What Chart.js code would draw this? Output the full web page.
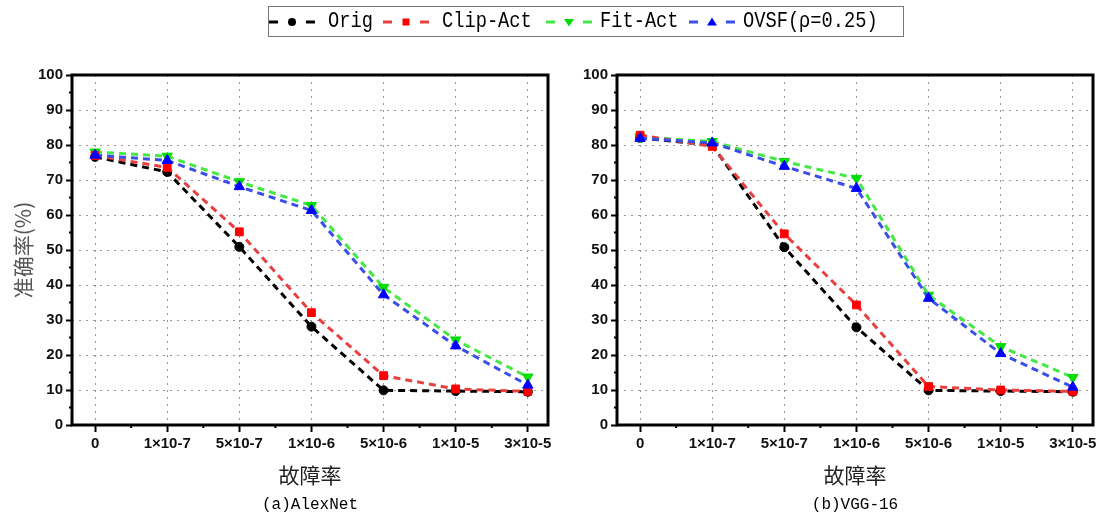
<!DOCTYPE html>
<html>
<head>
<meta charset="utf-8">
<script src="https://cdn.jsdelivr.net/npm/chart.js@4.4.1/dist/chart.umd.min.js"></script>
<style>
  body { margin: 0; background: #fff; width: 1100px; height: 516px; position: relative; overflow: hidden; }
  #wa { position: absolute; left: 0; top: 0; width: 560px; height: 516px; }
  #wb { position: absolute; left: 550px; top: 0; width: 550px; height: 516px; }
  .legend { position: absolute; left: 268px; top: 6px; width: 634px; height: 29px; border: 1px solid #777; }
  .legend svg { position: absolute; top: 7px; }
  .legend span { position: absolute; top: 0; line-height: 29px; font-family: "Liberation Mono", monospace; font-size: 22px; color: #000; transform: scaleX(0.85); transform-origin: left center; white-space: nowrap; }
  .sub { position: absolute; top: 496px; font-family: "Liberation Mono", monospace; font-size: 16px; color: #000; transform: translateX(-50%); white-space: nowrap; }
</style>
</head>
<body>
<div id="wa"><canvas id="chartA" width="560" height="516"></canvas></div>
<div id="wb"><canvas id="chartB" width="550" height="516"></canvas></div>
<div class="legend" id="legend"></div>
<div class="sub" style="left:310px">(a)AlexNet</div>
<div class="sub" style="left:855px">(b)VGG-16</div>
<script>
// fault rates on the x axis
const faultRates = ["0", "1×10-7", "5×10-7", "1×10-6", "5×10-6", "1×10-5", "3×10-5"];

// (a) AlexNet accuracy (%)
const alexOrig = [76.6, 72.3, 50.9, 28.1, 9.9, 9.7, 9.5];
const alexClip = [77.0, 73.6, 55.2, 32.1, 14.1, 10.3, 9.6];
const alexFit = [78.0, 76.8, 69.5, 62.7, 39.3, 24.3, 13.7];
const alexOvsf = [77.1, 75.6, 68.1, 61.3, 37.2, 22.6, 11.4];

// (b) VGG-16 accuracy (%)
const vggOrig = [82.0, 80.0, 50.8, 27.9, 9.9, 9.7, 9.5];
const vggClip = [82.8, 79.6, 54.6, 34.3, 11.0, 10.0, 9.6];
const vggFit = [82.3, 81.0, 75.3, 70.5, 37.1, 22.4, 13.6];
const vggOvsf = [81.9, 80.6, 73.9, 67.6, 36.2, 20.4, 10.8];

const seriesNames = ["Orig", "Clip-Act", "Fit-Act", "OVSF(ρ=0.25)"];
const lineColors = ["#000000", "#e8403f", "#44e844", "#3a4ee8"];
const markColors = ["#000000", "#ff0000", "#00dd00", "#0000ff"];
const markStyles = ["circle", "rect", "triangle", "triangle"];
const markRot = [0, 0, 180, 0];
const markSize = [4.5, 5.5, 6, 6];
const drawOrder = [3, 1, 2, 0];

const yTicks = [0, 10, 20, 30, 40, 50, 60, 70, 80, 90, 100];

function makeSets(lists) {
  return lists.map((vals, k) => ({
    label: seriesNames[k],
    data: vals.map((v, i) => ({ x: i, y: v })),
    borderColor: lineColors[k],
    borderWidth: 3,
    borderDash: [7, 5],
    pointStyle: markStyles[k],
    rotation: markRot[k],
    pointRadius: markSize[k],
    pointBackgroundColor: markColors[k],
    pointBorderColor: markColors[k],
    pointBorderWidth: 1,
    order: drawOrder[k],
    tension: 0,
  }));
}

const frame = {
  id: "frame",
  afterDraw(chart) {
    const { ctx, chartArea: a, scales } = chart;
    ctx.save();
    ctx.strokeStyle = "#000";
    // minor ticks
    ctx.lineWidth = 2;
    ctx.beginPath();
    for (let v = 5; v < 100; v += 10) {
      const y = scales.y.getPixelForValue(v);
      ctx.moveTo(a.left, y);
      ctx.lineTo(a.left - 3, y);
    }
    for (let i = 0; i < faultRates.length - 1; i++) {
      const x = scales.x.getPixelForValue(i + 0.5);
      ctx.moveTo(x, a.bottom);
      ctx.lineTo(x, a.bottom + 3);
    }
    ctx.stroke();
    ctx.lineWidth = 3;
    ctx.strokeRect(a.left, a.top, a.right - a.left, a.bottom - a.top);
    ctx.restore();
  },
};

function makeChart(id, lists, yWidth, padRight, showTitle) {
  return new Chart(document.getElementById(id), {
    type: "line",
    data: { datasets: makeSets(lists) },
    options: {
      responsive: false,
      animation: false,
      layout: { padding: { top: 75, right: padRight, bottom: 0, left: 0 } },
      plugins: { legend: { display: false }, tooltip: { enabled: false } },
      scales: {
        x: {
          type: "linear",
          min: -0.32,
          max: 6.28,
          afterBuildTicks: (s) => { s.ticks = faultRates.map((_, i) => ({ value: i })); },
          afterFit: (s) => { s.height = 91; },
          ticks: {
            callback: (v) => faultRates[v],
            font: { family: "Liberation Sans", size: 15, weight: "bold" },
            color: "#111",
            padding: 3,
            maxRotation: 0,
          },
          grid: {
            color: "#999",
            borderDash: [2, 5],
            lineWidth: 1,
            tickColor: "#000",
            tickLength: 7,
            tickWidth: 2,
          },
          border: { display: false, dash: [2, 5] },
          title: {
            display: true,
            text: "故障率",
            font: { family: "Noto Sans CJK SC", size: 21 },
            color: "#222",
            padding: { top: 0, bottom: 28 },
          },
        },
        y: {
          min: 0,
          max: 100,
          afterBuildTicks: (s) => { s.ticks = yTicks.map((v) => ({ value: v })); },
          afterFit: (s) => { s.width = yWidth; },
          ticks: {
            font: { family: "Liberation Sans", size: 15, weight: "bold" },
            color: "#111",
            padding: 3,
          },
          grid: {
            color: (c) => (c.tick && (c.tick.value === 0 || c.tick.value === 100) ? "rgba(0,0,0,0)" : "#999"),
            borderDash: [2, 5],
            lineWidth: 1,
            tickColor: "#000",
            tickLength: 6,
            tickWidth: 2,
          },
          border: { display: false, dash: [2, 5] },
          title: {
            display: showTitle,
            text: "准确率(%)",
            font: { family: "Noto Sans CJK SC", size: 21 },
            color: "#555",
            padding: { top: 10, bottom: 0 },
          },
        },
      },
    },
    plugins: [frame],
  });
}

makeChart("chartA", [alexOrig, alexClip, alexFit, alexOvsf], 72, 12, true);
makeChart("chartB", [vggOrig, vggClip, vggFit, vggOvsf], 67, 7, false);

// legend built from the same series settings
const legendPos = [[269, 328], [383, 442], [546, 600], [689, 743]];
const legend = document.getElementById("legend");
seriesNames.forEach((name, k) => {
  const [sx, tx] = legendPos[k];
  const c = markColors[k];
  let mark = "";
  if (markStyles[k] === "circle") mark = `<circle cx="23" cy="8" r="4" fill="${c}"/>`;
  else if (markStyles[k] === "rect") mark = `<rect x="19.5" y="4.5" width="7" height="7" fill="${c}"/>`;
  else if (markRot[k] === 180) mark = `<polygon points="18,5 28,5 23,12.5" fill="${c}"/>`;
  else mark = `<polygon points="18,11.5 28,11.5 23,3.5" fill="${c}"/>`;
  legend.insertAdjacentHTML("beforeend",
    `<svg width="46" height="16" style="left:${sx - 269}px">` +
    `<line x1="0" y1="8" x2="9" y2="8" stroke="${lineColors[k]}" stroke-width="3"/>` +
    `<line x1="37" y1="8" x2="46" y2="8" stroke="${lineColors[k]}" stroke-width="3"/>` + mark + `</svg>` +
    `<span style="left:${tx - 269}px">${name}</span>`);
});
</script>
</body>
</html>
